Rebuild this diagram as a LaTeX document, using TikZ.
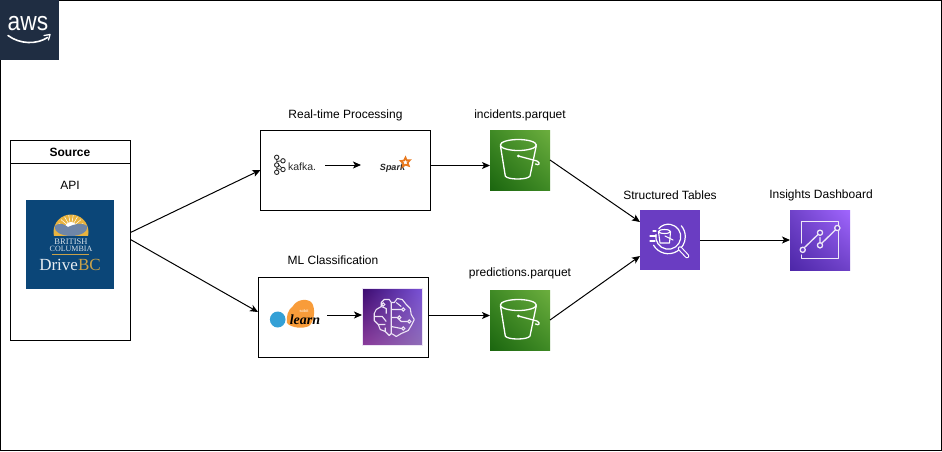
\documentclass[tikz,border=0pt]{standalone}
\usepackage{fontspec}
\setmainfont{Liberation Sans}
\newfontfamily\serifbc{Liberation Serif}
\usetikzlibrary{arrows.meta,calc,shadings}
\definecolor{awsbg}{HTML}{1F2D42}
\definecolor{bcblue}{HTML}{0B4678}
\definecolor{bcgold}{HTML}{E8B33F}
\definecolor{bcdust}{HTML}{6F86A8}
\definecolor{bcbc}{HTML}{C9A24A}
\definecolor{sGa}{HTML}{1B660F}
\definecolor{sGb}{HTML}{6CAE3E}
\definecolor{sGm}{HTML}{3F8A25}
\definecolor{pGa}{HTML}{4D27A8}
\definecolor{pGb}{HTML}{A166FF}
\definecolor{pGm}{HTML}{6F42C8}
\definecolor{athA}{HTML}{6A3DC2}
\definecolor{smA}{HTML}{3A0A6E}
\definecolor{smB}{HTML}{7A52D8}
\definecolor{smC}{HTML}{8A3A9A}
\definecolor{smD}{HTML}{8F6FB8}
\definecolor{smG}{HTML}{EDE4F5}
\definecolor{sparkor}{HTML}{E8791E}
\definecolor{sklblue}{HTML}{34A0D6}
\definecolor{sklor}{HTML}{F89C3A}
\definecolor{kafkagrey}{HTML}{2A2A2A}
\tikzset{
  x=1pt,y=-1pt,
  every node/.style={inner sep=0pt,outer sep=0pt},
  box/.style={draw=black,line width=1pt,fill=white,rectangle,anchor=north west},
  lbl/.style={font=\fontsize{12}{14}\selectfont,text=black},
  conn/.style={draw=black,line width=1pt,-{Stealth[length=8pt,width=7pt,inset=2pt]}},
  icon/.style={rectangle,minimum width=60pt,minimum height=60pt,anchor=north west},
  s3icon/.style={icon,shade,lower left=sGa,upper right=sGb,upper left=sGm,lower right=sGm},
  purpicon/.style={icon,shade,lower left=pGa,upper right=pGb,upper left=pGm,lower right=pGm},
  athicon/.style={icon,fill=athA},
  glyph/.style={draw=white,line width=1.3pt,line join=round,line cap=round},
  softglyph/.style={draw=white!88!pGm,line width=1.3pt,line join=round,line cap=round},
  kcirc/.style={draw=kafkagrey,line width=.9pt,fill=white},
}
\newcommand{\bucketglyph}[1]{%
  \begin{scope}[shift={(#1.north west)}]
    \draw[glyph] (28.3,15) ellipse [x radius=18,y radius=5.5];
    \draw[glyph] (10.5,16) -- (15.3,46) .. controls (17,50) and (38,50) .. (40,46) -- (46.2,16);
    \draw[glyph] (28.3,26) -- (47,31) .. controls (51,33) and (49,36) .. (45.5,34);
    \fill[white] (28.3,26) circle [radius=1.5];
  \end{scope}}
\begin{document}
\begin{tikzpicture}
\useasboundingbox (0,0) rectangle (942,451);
\fill[white] (0,0) rectangle (942,451);
\draw[black,line width=1pt] (0.5,0.5) rectangle (941,450.5);

% AWS badge
\node[rectangle,fill=awsbg,anchor=north west,minimum width=58.5pt,minimum height=59.5pt] (aws) at (0,0) {};
\node[text=white,font=\fontsize{24}{24}\selectfont,xscale=.95,yscale=1.1] (awstxt) at (28,23.5) {aws};
\draw[white,line width=1.6pt,line cap=round] (8,35.5) .. controls (20,44.5) and (37,44.5) .. (47.5,37.5);
\draw[white,line width=1.3pt,line cap=round,line join=round] (44,35.5) -- (50,34.5) -- (48.5,40);

% Source
\node[box,minimum width=120pt,minimum height=200pt] (source) at (10.5,140.5) {};
\coordinate (srchead) at ($(source.north west)+(0,23)$);
\draw[black,line width=1pt] (srchead) -- ($(source.north east)+(0,23)$);
\node[lbl,font=\fontsize{12}{14}\selectfont\bfseries] (srctitle) at (70,152) {Source};
\node[lbl] (api) at (70,185.5) {API};
\node[rectangle,fill=bcblue,anchor=north west,minimum width=88pt,minimum height=88.5pt] (bc) at (26,200) {};
\begin{scope}
  \clip (53,235) rectangle (90,205);
  \fill[bcgold] (71,232) circle [radius=17.5];
  \fill[white] (71,228) circle [radius=6];
  \foreach \a in {200,220,...,340}{\draw[white,line width=.5pt] (71,228) -- ++(\a:13);}
\end{scope}
\fill[bcdust] (54.5,226) .. controls (60,222) and (64,224) .. (68,227) .. controls (74,224) and (82,222) .. (87.5,226) .. controls (88,232) and (80,236) .. (71,236) .. controls (62,236) and (54,232) .. (54.5,226) -- cycle;
\node[text=white!85!bcblue,font=\serifbc\fontsize{8.5}{9}\selectfont] (bc1) at (71,241.7) {BRITISH};
\node[text=white!85!bcblue,font=\serifbc\fontsize{8}{9}\selectfont] (bc2) at (71,249.2) {COLUMBIA};
\draw[bcbc,line width=.5pt] (52,254.5) -- (89,254.5);
\node[font=\serifbc\fontsize{17}{18}\selectfont] (bc3) at (70,265) {\textcolor{white!90!bcblue}{Drive}\textcolor{bcbc}{BC}};

% Real-time box
\node[box,minimum width=170pt,minimum height=80pt] (rt) at (260.5,130.5) {};
\node[lbl] (rtl) at (345.5,115) {Real-time Processing};
\draw[kafkagrey,line width=.8pt] (276.7,157.3) -- (276.7,172.3) (276.7,161.5) -- (283,160.5) (276.7,168.5) -- (283,170) (276.7,163) -- (283,169);
\foreach \p in {(276.7,157.3),(276.7,165),(276.7,172.3),(283,160.8),(283,169.5)}{\draw[kcirc] \p circle [radius=2.2];}
\node[text=kafkagrey,font=\fontsize{10.5}{12}\selectfont,anchor=west] (kafka) at (288,166.5) {kafka.};
\node[font=\fontsize{9}{9}\selectfont\bfseries\itshape,text=black!85] (spark) at (392.5,168) {Spark};
\draw[sparkor,line width=1.7pt,line join=miter]
  (405.5,157.5) -- (406.7,160.4) -- (409.8,160.2) -- (407.6,162.8) -- (408.8,165.8) -- (405.5,164.7) -- (402.6,166.5) -- (403.3,163.2) -- (400.8,161) -- (404,160.5) -- cycle;
\coordinate (kout) at (325,165);
\coordinate (sin) at (361,165);
\draw[conn] (kout) -- (sin);

% ML box
\node[box,minimum width=170pt,minimum height=80pt] (ml) at (258,277.5) {};
\node[lbl] (mll) at (333,260) {ML Classification};
\fill[sklblue] (277.7,319.5) ellipse [x radius=7.8,y radius=8];
\fill[sklor] (293,306) .. controls (297,299) and (308,298) .. (312,303) .. controls (316,310) and (314,322) .. (309,326) .. controls (303,329) and (291,328) .. (287,323) .. controls (286,316) and (288,310) .. (293,306) -- cycle;
\node[text=white,font=\fontsize{4}{4}\selectfont] (sci) at (304,311.5) {scikit};
\node[text=black,font=\serifbc\fontsize{14}{14}\selectfont\bfseries\itshape,anchor=north] (learn) at (305,314.5) {learn};
\coordinate (lout) at (327,315);
\node[rectangle,anchor=north west,minimum width=60.5pt,minimum height=57pt,draw=smG,line width=.6pt,
  shade,upper left=smA,upper right=smB,lower left=smC,lower right=smD] (sm) at (362,288) {};
\draw[conn] (lout) -- (sm.west |- lout);
\begin{scope}[shift={(sm.center)}]
  \draw[smG,line width=1.1pt,line join=round]
    (-3,-17) -- (-8,-17) -- (-11,-14) -- (-11,-10) -- (-16,-7) -- (-18,-3) -- (-18,4) -- (-14,8) -- (-12,13) -- (-7,15) -- (-3,19) -- (-1,17)
    -- (-1,-14) -- (-3,-17)
    (2,-14) -- (5,-18) -- (10,-17) -- (14,-12) -- (18,-8) -- (19,-2) -- (22,3) -- (19,9) -- (16,14) -- (9,17) -- (4,20) -- (1,18) -- (-1,17)
    (2,-14) -- (-1,-14)
    (-11,-10) -- (-6,-8) -- (-6,-3)
    (-18,0) -- (-10,0) -- (-6,5) (-14,8) -- (-7,8)
    (-7,15) -- (-7,11)
    (-1,-7) -- (9,-7) (-1,1) -- (5,1) -- (9,5) -- (15,5)
    (-1,10) -- (9,12) (4,-14) -- (9,-10);
  \foreach \p in {(11,-7),(7,1),(17,5),(11,12),(-9,-12)}{\draw[smG,line width=1pt] \p circle [radius=1.6];}
\end{scope}

% S3 icons
\node[lbl] (incl) at (520,115) {incidents.parquet};
\node[s3icon] (s3a) at (490,130) {};
\bucketglyph{s3a}
\node[lbl] (predl) at (520,273) {predictions.parquet};
\node[s3icon] (s3b) at (490,290) {};
\bucketglyph{s3b}

% Athena
\node[lbl] (stl) at (670,195) {Structured Tables};
\node[athicon] (ath) at (640,210) {};
\begin{scope}[shift={(ath.north west)}]
  \draw[glyph,line width=1.2pt] (28.3,26.7) ++(150:17) arc [start angle=150,end angle=-40,radius=17];
  \draw[glyph,line width=1.2pt] (28.3,26.7) ++(190:12.5) arc [start angle=190,end angle=-140,radius=12.5];
  \draw[glyph,line width=1.1pt] (24.5,21.5) ellipse [x radius=6,y radius=2];
  \draw[glyph,line width=1.1pt] (18.5,21.5) -- (20,33) -- (29.5,33) -- (30.5,22);
  \draw[glyph,line width=1.1pt] (25,26) -- (33,30);
  \draw[glyph] (10,26) -- (16,26) (10,31) -- (15,31) (13,21) -- (16,21);
  \draw[white,line width=4.5pt,line cap=round] (40,38.5) -- (47,46);
  \draw[athA,line width=2.3pt,line cap=round] (40,38.5) -- (47,46);
\end{scope}

% Dashboard
\node[lbl] (idl) at (821,195) {Insights Dashboard};
\node[purpicon] (dash) at (790,210) {};
\begin{scope}[shift={(dash.north west)}]
  \draw[softglyph] (11.7,33) -- (11.7,11.7) -- (48.3,11.7) -- (48.3,48.3) -- (11.7,48.3) -- (11.7,45);
  \draw[softglyph] (14,38) -- (28.2,24.3) (30,27.5) -- (30,32.5) (31.5,33.5) -- (45.5,19.8);
  \foreach \p in {(12.7,39.8),(30,22.7),(30,35.3),(47.3,18)}{\draw[softglyph,fill=pGm] \p circle [radius=2.6];}
\end{scope}

% Connectors
\draw[conn] ($(source.east)+(0,-8)$) -- (rt.west |- 0,170);
\draw[conn] ($(source.east)+(0,-1)$) -- (ml.west |- 0,312);
\draw[conn] (rt.east |- 0,165.5) -- (s3a.west |- 0,165.5);
\draw[conn] (ml.east |- 0,315.5) -- (s3b.west |- 0,315.5);
\draw[conn] (s3a.east |- 0,160) -- (ath.west |- 0,222);
\draw[conn] (s3b.east |- 0,320) -- (ath.west |- 0,256);
\draw[conn] (ath.east) -- (dash.west);
\end{tikzpicture}
\end{document}
